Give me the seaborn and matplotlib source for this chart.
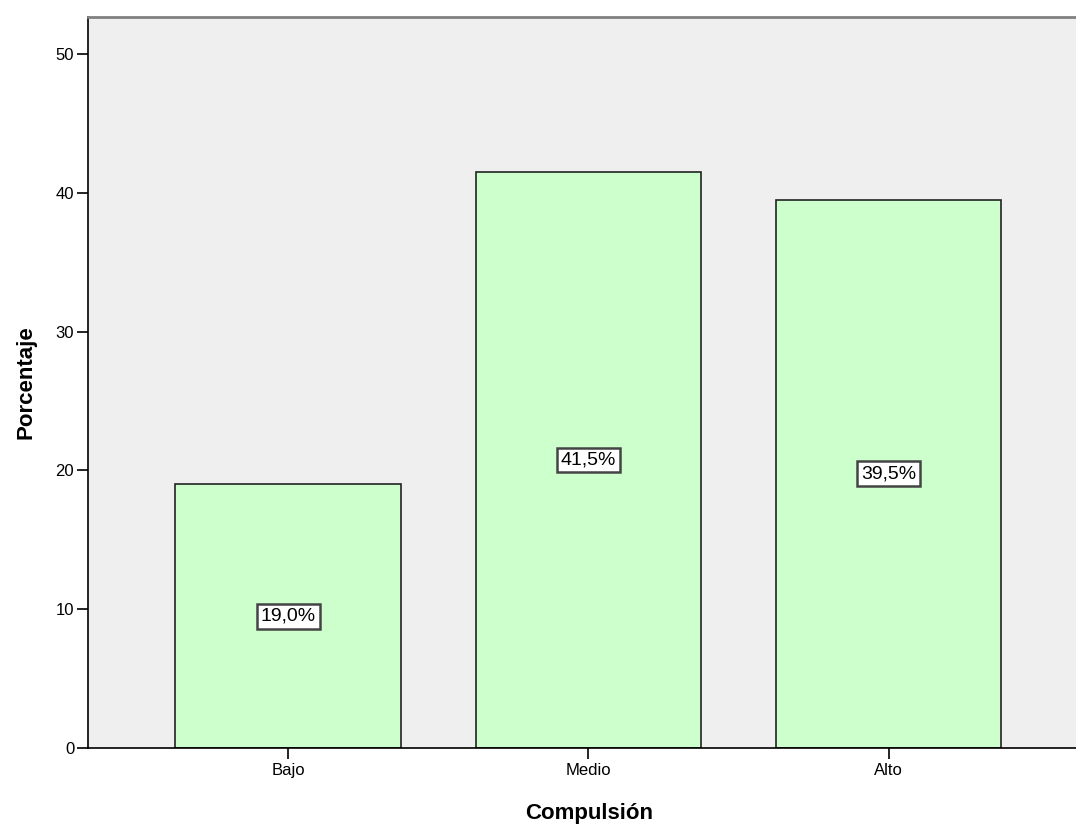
import pandas as pd
import seaborn as sns
import matplotlib
matplotlib.use("Agg")
import matplotlib.pyplot as plt

# datos
categorias = ["Bajo", "Medio", "Alto"]
porcentajes = [19.0, 41.5, 39.5]
etiquetas = ["19,0%", "41,5%", "39,5%"]

df = pd.DataFrame({"Compulsión": categorias, "Porcentaje": porcentajes})

sns.set_style("white")
plt.rcParams["font.family"] = ["Liberation Sans", "DejaVu Sans"]
plt.rcParams["text.color"] = "black"
plt.rcParams["axes.labelcolor"] = "black"
plt.rcParams["xtick.color"] = "black"
plt.rcParams["ytick.color"] = "black"

fig = plt.figure(figsize=(10.76, 8.27), dpi=100)
# el marco se sale por la derecha como en el original
ax = fig.add_axes([0.0818, 0.0955, 0.931, 0.8839])
ax.set_facecolor("#efefef")

sns.barplot(data=df, x="Compulsión", y="Porcentaje", order=categorias,
            color="#ccffcc", edgecolor="#222222", linewidth=1.2,
            width=0.75, saturation=1, ax=ax)

# etiquetas en mitad de cada barra
for i, (v, txt) in enumerate(zip(porcentajes, etiquetas)):
    ax.text(i, v / 2, txt, ha="center", va="center", fontsize=14,
            color="black",
            bbox=dict(boxstyle="square,pad=0.2", facecolor="white",
                      edgecolor="#444444", linewidth=1.8))

ax.set_xlim(-0.666, 2.669)
ax.set_ylim(0, 52.66)
ax.set_yticks([0, 10, 20, 30, 40, 50])

ax.tick_params(axis="both", which="both", direction="out", length=8,
               width=1.2, color="black", labelsize=12, left=True, bottom=True)
ax.tick_params(axis="y", pad=2)
ax.tick_params(axis="x", pad=3)

for lado in ["left", "bottom"]:
    ax.spines[lado].set_color("black")
    ax.spines[lado].set_linewidth(1.2)
ax.spines["top"].set_color("#808080")
ax.spines["top"].set_linewidth(2)
ax.spines["right"].set_visible(False)

ax.set_xlabel("Compulsión", fontsize=16, fontweight="bold", labelpad=18)
ax.set_ylabel("Porcentaje", fontsize=16, fontweight="bold", labelpad=14)

fig.savefig("out.png", dpi=100)
